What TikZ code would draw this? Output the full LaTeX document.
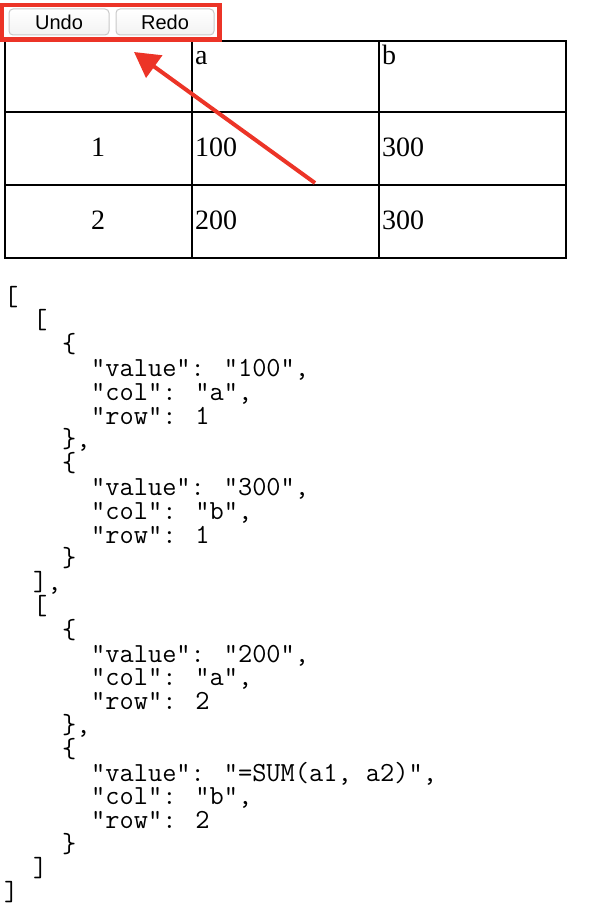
\documentclass[tikz,border=0pt]{standalone}
\usepackage{fontspec}
\usepackage{xcolor}
\usepackage{tikz}
\usetikzlibrary{arrows.meta}
\newfontfamily\cellfont{Liberation Serif}
\newfontfamily\btnfont{Liberation Sans}
\definecolor{markred}{RGB}{236,52,39}
\definecolor{btnborder}{RGB}{200,200,200}

\begin{document}
\begin{tikzpicture}[x=1pt, y=-1pt, every node/.style={inner sep=0pt},
  button/.style={draw=btnborder, line width=1pt, rounded corners=4pt, top color=white, bottom color=gray!10, minimum width=#1, minimum height=26pt, font=\btnfont\fontsize{20}{20}\selectfont},
  cell/.style={anchor=base west, font=\cellfont\fontsize{28}{28}\selectfont},
  code/.style={anchor=base west, text height=17pt, text depth=5pt, font=\ttfamily\fontsize{27.6}{27.6}\selectfont},
  grid/.style={line width=2pt, line cap=rect},
  markbox/.style={draw=markred, line width=4.5pt},
  markarrow/.style={draw=markred, line width=4pt, -{Triangle[length=25pt, width=27pt]}}]
\useasboundingbox (0,0) rectangle (606,920);

\draw[grid] (5,41) rectangle (566,258);
\draw[grid] (192,41) -- (192,258);
\draw[grid] (379,41) -- (379,258);
\draw[grid] (5,112) -- (566,112);
\draw[grid] (5,185) -- (566,185);

\node[cell] (ha) at (195,65) {a};
\node[cell] (hb) at (382,65) {b};
\node[cell, anchor=base] (r1) at (98,157) {1};
\node[cell] (a1) at (195,157) {100};
\node[cell] (b1) at (382,157) {300};
\node[cell, anchor=base] (r2) at (98,229) {2};
\node[cell] (a2) at (195,229) {200};
\node[cell] (b2) at (382,229) {300};

\node[button=100pt] (undo) at (59,22) {Undo};
\node[button=98pt] (redo) at (165,22) {Redo};
\draw[markbox] (2,5) rectangle (219.5,39.5);

\coordinate (tail) at (315,183);
\coordinate (tip) at (134,52);
\draw[markarrow] (tail) -- (tip);

\foreach \ind/\txt [count=\n] in {0/{[}, 1/{[}, 2/{\{}, 3/{"value": "100",}, 3/{"col": "a",}, 3/{"row": 1}, 2/{\},}, 2/{\{}, 3/{"value": "300",}, 3/{"col": "b",}, 3/{"row": 1}, 2/{\}}, 1/{],}, 1/{[}, 2/{\{}, 3/{"value": "200",}, 3/{"col": "a",}, 3/{"row": 2}, 2/{\},}, 2/{\{}, 3/{"value": "=SUM(a1, a2)",}, 3/{"col": "b",}, 3/{"row": 2}, 2/{\}}, 1/{]}, 0/{]}}
  \node[code] (line\n) at ({4+29*\ind},{305+23.8*(\n-1)}) {\txt};
\end{tikzpicture}
\end{document}
